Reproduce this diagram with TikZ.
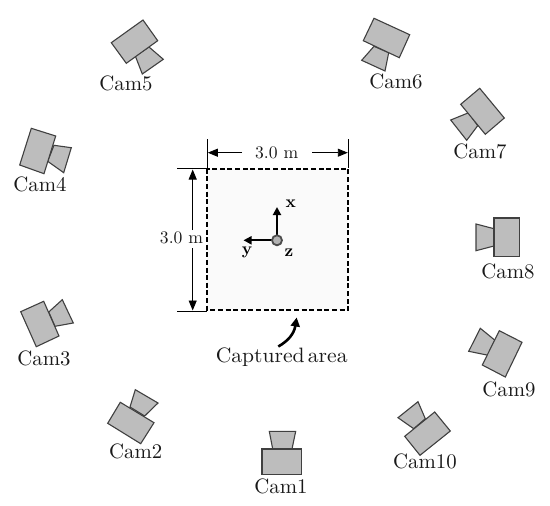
\documentclass[tikz,border=0pt]{standalone}
\usepackage{fontspec}
\usetikzlibrary{arrows.meta}
\newcommand{\camtext}[1]{\scalebox{2.08}{#1}}
\newcommand{\captext}[1]{\scalebox{2.16}[2.08]{#1}}
\newcommand{\dimtext}[1]{\scalebox{1.76}{#1}}
\newcommand{\axtext}[1]{\scalebox{1.7}{\bfseries #1}}
\tikzset{
  cambox/.style={draw=black!75,fill=black!26,line width=1.1pt,line join=miter},
  camlabel/.style={text=black!90,inner sep=0pt,anchor=center},
  dimline/.style={draw=black,line width=0.9pt},
  dimarrow/.style={draw=black,line width=0.9pt,-{Triangle[length=10pt,width=8pt]}},
  axisarrow/.style={draw=black,line width=1.9pt,-{Triangle[length=8pt,width=8pt]}},
  axislabel/.style={inner sep=0pt},
  dimlabel/.style={text=black!90,inner sep=0pt}
}
\begin{document}
\begin{tikzpicture}[x=1pt,y=-1pt]
\useasboundingbox (0,0) rectangle (550,506);
% cameras
\draw[cambox] (269.3,431.3)--(295.7,431.3)--(292,449)--(272.7,449)--cycle;
\draw[cambox] (262,449) rectangle (301.7,474.3);
\draw[cambox] (135.3,389.7)--(158,403)--(144.7,416)--(130,407)--cycle;
\draw[cambox] (120.3,402.3)--(154,422.7)--(140.7,443.7)--(107.7,423.3)--cycle;
\draw[cambox] (48.7,312)--(62.3,299.7)--(73.3,323)--(55,326.3)--cycle;
\draw[cambox] (20.7,311.7)--(43.7,301.3)--(59,336)--(36.3,346.7)--cycle;
\draw[cambox] (54,145.3)--(71.3,147.7)--(63.7,172.7)--(47.7,161.3)--cycle;
\draw[cambox] (31.3,128.3)--(55.7,136)--(44,173.7)--(19.7,165)--cycle;
\draw[cambox] (149,47)--(163.3,59.3)--(142.3,74)--(135.3,56)--cycle;
\draw[cambox] (143,20)--(157.7,40.7)--(126.3,63.3)--(111.3,42.7)--cycle;
\draw[cambox] (374,46.3)--(388.7,52.7)--(385,71)--(361.7,60.3)--cycle;
\draw[cambox] (374,18.3)--(409.7,34.7)--(399.3,57.7)--(363.3,40.7)--cycle;
\draw[cambox] (468.7,112.7)--(477.7,125.7)--(466.7,140.3)--(450.7,120)--cycle;
\draw[cambox] (479.7,88.3)--(504.3,118)--(485.3,134.3)--(460.7,104.3)--cycle;
\draw[cambox] (494,228.7)--(494,246)--(476,250.7)--(476,224)--cycle;
\draw[cambox] (494,218) rectangle (519.3,256.7);
\draw[cambox] (480.3,328.3)--(495,340.3)--(488.3,355.3)--(468.7,351.3)--cycle;
\draw[cambox] (499.3,330.7)--(522,342.3)--(505.3,377)--(482.3,365)--cycle;
\draw[cambox] (418,401.7)--(425.3,418.7)--(413.7,428.7)--(398,417.7)--cycle;
\draw[cambox] (434.7,412)--(450.3,431)--(420,455.3)--(404.7,436.3)--cycle;
% camera labels
\node[camlabel] (c1) at (281,486) {\camtext{Cam1}};
\node[camlabel] (c2) at (135.7,451) {\camtext{Cam2}};
\node[camlabel] (c3) at (44,358) {\camtext{Cam3}};
\node[camlabel] (c4) at (40,184) {\camtext{Cam4}};
\node[camlabel] (c5) at (126,83) {\camtext{Cam5}};
\node[camlabel] (c6) at (396,81) {\camtext{Cam6}};
\node[camlabel] (c7) at (480,151) {\camtext{Cam7}};
\node[camlabel] (c8) at (508,271) {\camtext{Cam8}};
\node[camlabel] (c9) at (509,389) {\camtext{Cam9}};
\node[camlabel] (c10) at (425,461) {\camtext{Cam10}};
% captured area
\draw[draw=black,fill=black!2,line width=1.9pt,dash pattern=on 5pt off 2.6pt] (207.3,168.7) rectangle (348.3,310);
% dimensions
\coordinate (tl) at (207.3,139);
\coordinate (tl2) at (207.3,168);
\coordinate (tr) at (348.3,139);
\coordinate (tr2) at (348.3,168);
\coordinate (lt) at (177.3,168.7);
\coordinate (lt2) at (207,168.7);
\coordinate (lb) at (177.3,311);
\coordinate (lb2) at (207,311);
\draw[dimline] (tl)--(tl2);
\draw[dimline] (tr)--(tr2);
\draw[dimline] (lt)--(lt2);
\draw[dimline] (lb)--(lb2);
\node[dimlabel] (wlab) at (276.7,153) {\dimtext{3.0 m}};
\node[dimlabel] (hlab) at (181.5,237.5) {\dimtext{3.0 m}};
\coordinate (wa) at (242,152.7);
\coordinate (wa0) at (207.8,152.7);
\coordinate (wb) at (312,152.7);
\coordinate (wb0) at (347.8,152.7);
\draw[dimarrow] (wa)--(wa0);
\draw[dimarrow] (wb)--(wb0);
\coordinate (ha) at (192.7,230);
\coordinate (ha0) at (192.7,169.5);
\coordinate (hb) at (192.7,248);
\coordinate (hb0) at (192.7,310.5);
\draw[dimarrow] (ha)--(ha0);
\draw[dimarrow] (hb)--(hb0);
% axes
\coordinate (o) at (277,240.3);
\coordinate (ox) at (277,207);
\coordinate (oy) at (243.5,240.3);
\draw[axisarrow] (o)--(ox);
\draw[axisarrow] (o)--(oy);
\node[circle,draw=black!70,fill=black!30,line width=1.8pt,minimum size=10pt,inner sep=0pt] (zc) at (o) {};
\node[axislabel] (xl) at (290.7,204) {\axtext{x}};
\node[axislabel] (yl) at (247,252.5) {\axtext{y}};
\node[axislabel] (zl) at (289,252.5) {\axtext{z}};
% label and pointer
\node[camlabel] (cap) at (281.7,357) {\captext{Captured\kern1.5pt area}};
\coordinate (pa) at (278.3,346.5);
\coordinate (pb) at (296.7,317.5);
\draw[draw=black,line width=2.6pt,-{Triangle[length=9pt,width=9pt]}] (pa) .. controls (288,341) and (294,334) .. (pb);
\end{tikzpicture}
\end{document}
